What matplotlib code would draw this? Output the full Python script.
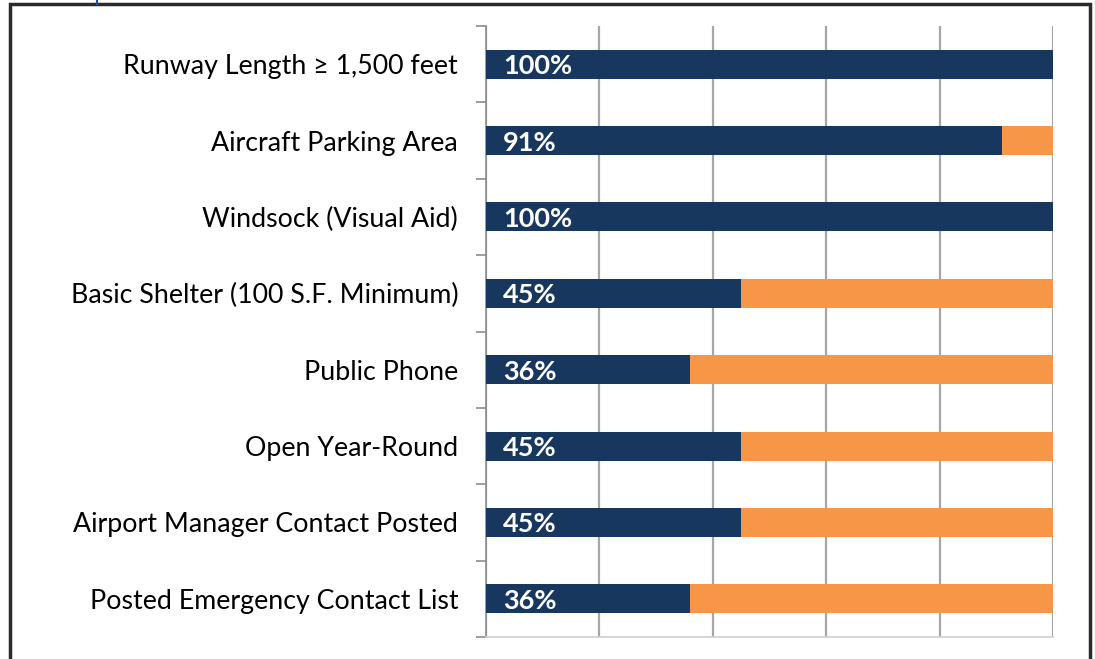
import matplotlib
matplotlib.use("Agg")
import matplotlib.pyplot as plt
from matplotlib.patches import Rectangle
from matplotlib.lines import Line2D
import numpy as np

categories = [
    "Runway Length \u2265 1,500 feet",
    "Aircraft Parking Area",
    "Windsock (Visual Aid)",
    "Basic Shelter (100 S.F. Minimum)",
    "Public Phone",
    "Open Year-Round",
    "Airport Manager Contact Posted",
    "Posted Emergency Contact List",
]
yes_pct = [100, 91, 100, 45, 36, 45, 45, 36]
no_pct = [100 - v for v in yes_pct]

navy = "#17375E"
orange = "#F79646"

plt.rcParams['font.family'] = ['Lato', 'DejaVu Sans']

fig = plt.figure(figsize=(10.95, 6.59), dpi=100)
ax = fig.add_axes([486 / 1095, 1 - 637 / 659, (1053 - 486) / 1095, (637 - 26) / 659])

y = np.arange(len(categories))
ax.barh(y, yes_pct, height=0.38, color=navy, zorder=3)
ax.barh(y, no_pct, left=yes_pct, height=0.38, color=orange, zorder=3)

for yi, v in zip(y, yes_pct):
    ax.text(3, yi, f"{v}%", color="white", fontweight="bold", fontsize=19.5,
            va="center_baseline", ha="left", zorder=4)

ax.set_xlim(0, 100)
ax.set_ylim(len(categories) - 0.5, -0.5)
ax.set_xticks([0, 20, 40, 60, 80, 100])
ax.set_xticklabels([])
ax.tick_params(axis="x", length=0)
ax.grid(axis="x", color="#A6A6A6", linewidth=1.6, zorder=0)

ax.set_yticks(y)
ax.set_yticklabels(categories, fontsize=19.3, color="#000000")
ax.tick_params(axis="y", which="major", length=0, pad=20)
ax.set_yticks(np.arange(-0.5, len(categories)), minor=True)
ax.tick_params(axis="y", which="minor", length=7, width=1.2, color="#8C8C8C", direction="out")

for side in ["top", "right"]:
    ax.spines[side].set_visible(False)
ax.spines["left"].set_color("#8C8C8C")
ax.spines["left"].set_linewidth(1.2)
ax.spines["bottom"].set_color("#D0D0D0")
ax.spines["bottom"].set_linewidth(1.2)

# outer frame and small marker line at top
fig.patches.append(Rectangle((10 / 1095, -0.05), (1090 - 10) / 1095, 1.05 - 4 / 659,
                             transform=fig.transFigure, fill=False,
                             edgecolor="#2B2B2B", linewidth=2.5))
fig.lines.append(Line2D([97 / 1095, 97 / 1095], [1, 1 - 4 / 659],
                        transform=fig.transFigure, color="#1F4E9A", linewidth=1.5))

fig.savefig("out.png", dpi=100)
